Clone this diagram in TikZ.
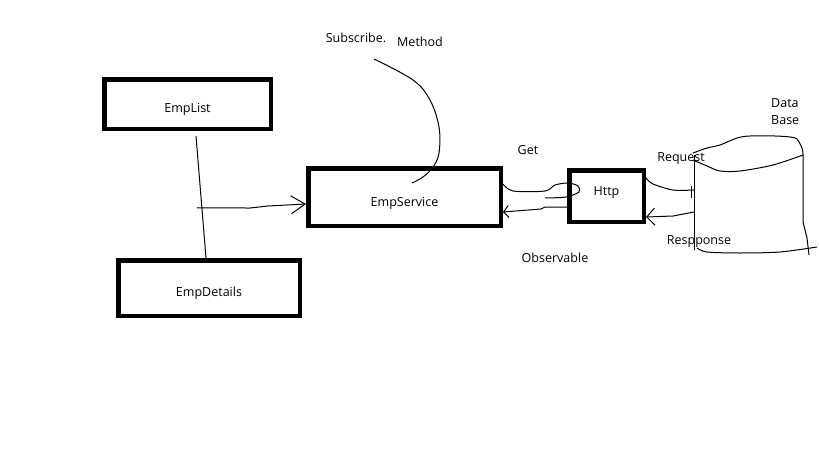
\documentclass[tikz,border=0pt]{standalone}
\usepackage{fontspec}
\setmainfont{Open Sans}
\usetikzlibrary{arrows.meta}

\tikzset{
	box/.style={draw, line width=4.5pt, inner sep=0pt, text height=16pt, text depth=0pt, font=\fontsize{12.5}{14}\selectfont},
	lbl/.style={anchor=base, inner sep=0pt, font=\fontsize{12.5}{17}\selectfont},
	pen/.style={line width=1pt},
	barb/.style={-{Straight Barb[length=#1]}}
}

\begin{document}
\begin{tikzpicture}[x=1pt, y=-1pt]
	\useasboundingbox (0,0) rectangle (819,460);
	\fill[white] (0,0) rectangle (819,460);
	\node (emplist) at (187.5,104) [box, minimum width=166.5pt, minimum height=49.5pt] {EmpList};
	\node (empdetails) at (209,288) [box, minimum width=181.5pt, minimum height=55.5pt] {EmpDetails};
	\node (empservice) at (404.5,197) [box, minimum width=192.5pt, minimum height=57.5pt, text height=18pt] {EmpService};
	\node (http) at (606.5,196) [box, minimum width=74.5pt, minimum height=51.5pt, text height=4pt, text depth=6pt] {Http};
	\node (db) at (748.5,195) [minimum width=109pt, minimum height=100pt, inner sep=0pt, outer sep=0pt] {};
	\node (subscribe) at (356,43) [lbl] {Subscribe.};
	\node (method) at (420,47) [lbl] {Method};
	\node (get) at (528,154) [lbl] {Get};
	\node (observable) at (555,262) [lbl] {Observable};
	\node (request) at (681,161) [lbl] {Request};
	\node (response) at (699,244) [lbl] {Respponse};
	\node (dbname) at (771,124) [lbl, anchor=base west, align=left] {Data\\Base};
	\coordinate (subtail) at (374,59);

	\draw[pen] ([xshift=8.5pt,yshift=-5pt]emplist.south) -- coordinate[pos=0.59] (tap) ([xshift=-3pt]empdetails.north);
	\draw[pen, barb={14pt,width=18pt}] ([xshift=-5pt]tap) -- (250,208) -- (268,206) -- ([yshift=-7pt]empservice.west);
	\draw[pen] plot[smooth, tension=0.6] coordinates {(subtail) (413,80) (430,100) (439,127) (439,153) (433,167) (423,177) ([xshift=7.5pt,yshift=14pt]empservice.center)};

	\draw[pen] plot[smooth, tension=0.5] coordinates {([yshift=13pt]empservice.east) (513,191) (545,191) (555,185) (568,183) (578,186) (579,192) (566,197) (545,198)};
	\draw[pen, barb={5pt,width=12pt}] ([yshift=-11pt]http.west) -- (545,207) -- (541,209) -- ([yshift=-15pt]empservice.east);

	\draw[pen] plot[smooth, tension=0.5] coordinates {([yshift=18pt]http.east) (653,184) (673,190) ([yshift=5pt]db.west)};
	\draw[pen] ([xshift=-3pt,yshift=9pt]db.west) -- ([xshift=-3pt,yshift=-3pt]db.west);
	\draw[pen, barb={8pt,width=17pt}] ([yshift=-17pt]db.west) -- (673,216) -- ([yshift=-21pt]http.east);

	\draw[pen] plot[smooth, tension=0.5] coordinates {(693,153) (707,148) (720,145) (737,138) (750,136) (775,136) (790,137) (797,139) (802,148) (803,154)};
	\draw[pen] plot[smooth, tension=0.5] coordinates {(693,160) (707,166) (720,171) (740,171) (773,165) (803,155)};
	\draw[pen] (694,155) -- (694,250);
	\draw[pen] (803,154) -- (803,222) -- (807,238) -- (809,255);
	\draw[pen] plot[smooth, tension=0.5] coordinates {(697,248) (707,252) (740,253) (780,252) (817,247)};
\end{tikzpicture}
\end{document}
